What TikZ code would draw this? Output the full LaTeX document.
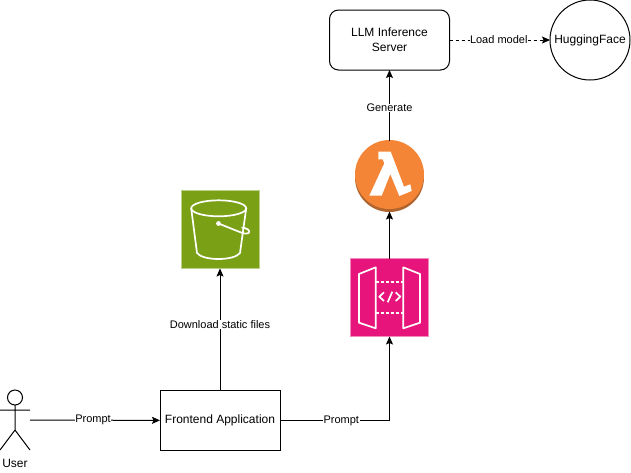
\documentclass[tikz,border=0pt]{standalone}
\usepackage{fontspec}
\setmainfont{Liberation Sans}
\usetikzlibrary{arrows.meta}
\definecolor{lambdaOrange}{HTML}{F58536}
\definecolor{lambdaDark}{HTML}{B0652F}
\definecolor{apiPink}{HTML}{E7157B}
\definecolor{apiEdge}{HTML}{F28BBD}
\definecolor{bucketGreen}{HTML}{7AA116}
\definecolor{bucketEdge}{HTML}{BCD08A}

\tikzstyle{block} = [rectangle, draw, line width=1pt, outer sep=0pt, inner sep=0pt, align=center, font=\fontsize{12}{15}\selectfont]
\tikzstyle{icon} = [rectangle, line width=1pt, outer sep=0pt, minimum width=78pt, minimum height=78pt]
\tikzstyle{glyph} = [draw=white, line width=1.7pt, line join=round]
\tikzstyle{arrow} = [line width=1pt,-{Stealth[length=8pt,width=7pt,inset=1.5pt]}]
\tikzstyle{edgelabel} = [fill=white, inner sep=0.5pt, font=\fontsize{11}{13}\selectfont]

\begin{document}
\begin{tikzpicture}[x=1pt,y=-1pt]
\useasboundingbox (0,0) rectangle (631,472);

\node (server) [block, rounded corners=9pt, minimum width=120pt, minimum height=60pt] at (389.5,40) {LLM Inference\\Server};
\node (huggingFace) [block, circle, minimum size=80pt] at (590,40) {HuggingFace};
\node (lambdaIcon) [circle, outer sep=0pt, inner sep=0pt, minimum size=71pt] at (389.5,176) {};
\node (apiIcon) [icon, fill=apiPink, draw=apiEdge] at (389.5,297.5) {};
\node (bucketIcon) [icon, fill=bucketGreen, draw=bucketEdge] at (220.5,229.5) {};
\node (frontend) [block, minimum width=120pt, minimum height=60pt] at (220,420.5) {Frontend Application};
\node (user) [outer sep=0pt, minimum width=30pt, minimum height=60pt] at (15,420) {};
\node (userLabel) [font=\fontsize{12}{15}\selectfont, inner sep=0pt] at (15,463) {User};

% lambda icon
\fill [lambdaDark] (389.5,177.5) circle (34.5pt);
\fill [lambdaOrange] (389.5,174.5) circle (34.5pt);
\fill [white] (378.3,151.7) -- (390.7,151.7) -- (404,186.7) -- (410.3,184.3) -- (411.7,191) -- (399.3,196) -- (390.3,174) -- (381.7,195.7) -- (369.3,195.7) -- (384.3,163.3) -- (382.7,159.3) -- (378.3,159.3) -- cycle;

% api icon
\draw [glyph] (359,274) -- (375.7,267.3) -- (375.7,328.3) -- (359,322.7) -- cycle;
\draw [glyph] (403.3,267.3) -- (420,274) -- (420,322.7) -- (403.3,328.3) -- cycle;
\draw [glyph, dash pattern=on 3pt off 2pt] (375.7,282.3) -- (403.3,282.3);
\draw [glyph, dash pattern=on 3pt off 2pt] (375.7,313.3) -- (403.3,313.3);
\draw [glyph] (384,292.3) -- (379.3,296.7) -- (384,301);
\draw [glyph] (395.7,292.3) -- (400.3,296.7) -- (395.7,301);
\draw [glyph] (392.3,291.7) -- (387.7,302.3);

% bucket icon
\draw [glyph] (218.7,208.3) ellipse (27.5pt and 8pt);
\draw [glyph] (191.2,208.3) -- (197,253) .. controls (203,261) and (234,261) .. (240,253) -- (246.2,208.3);
\fill [white] (218.5,223.5) circle (2.4pt);
\draw [glyph] (218.5,223.5) -- (241,232.5) .. controls (249,235.5) and (251,232) .. (248,229.5) .. controls (246,228) and (243,227.5) .. (241.5,227.5);

% user figure
\draw [line width=1pt] (15,397.5) circle (7.5pt);
\draw [line width=1pt] (15,405) -- (15,430) (0,410) -- (30,410) (0,450) -- (15,430) -- (30,450);

\draw [arrow] (user) -- node [edgelabel, pos=0.485] {Prompt} (frontend);
\draw [arrow] (frontend.north) -- node [edgelabel, pos=0.54] {Download static files} (frontend.north |- bucketIcon.south);
\draw [arrow] (frontend) -| node [edgelabel, pos=0.28] {Prompt} (apiIcon.south);
\draw [arrow] (apiIcon) -- (lambdaIcon);
\draw [arrow] (lambdaIcon) -- node [edgelabel, pos=0.46] {Generate} (server);
\draw [arrow, dash pattern=on 3pt off 3pt] (server) -- node [edgelabel, pos=0.49] {Load model} (huggingFace);
\end{tikzpicture}
\end{document}
